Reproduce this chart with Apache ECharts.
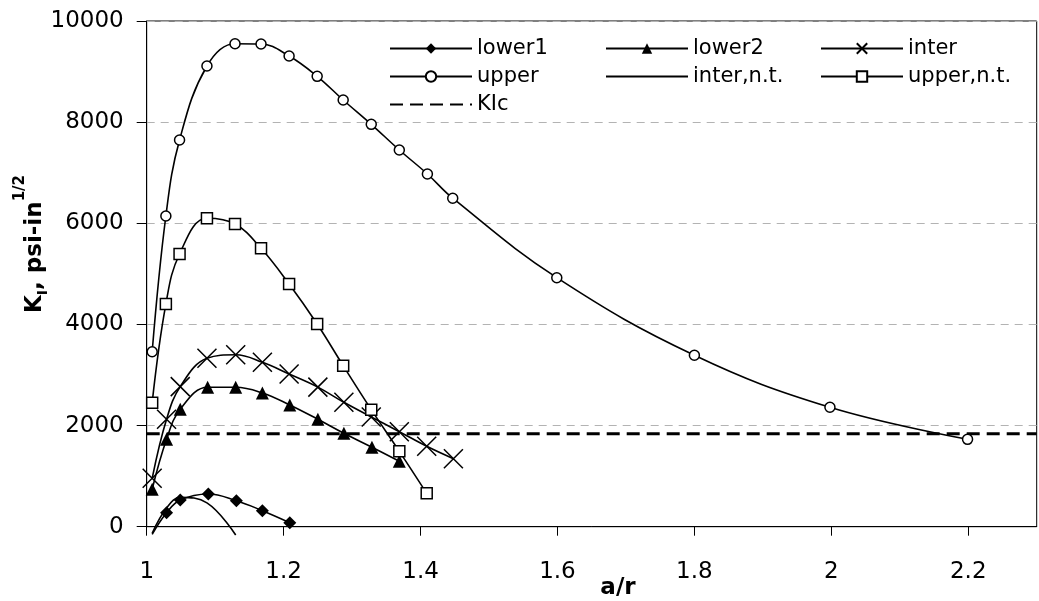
<!DOCTYPE html>
<html>
<head>
<meta charset="utf-8">
<script src="https://cdn.jsdelivr.net/npm/echarts@6/dist/echarts.min.js"></script>
<style>html,body{margin:0;padding:0;background:#fff}#c{width:1039px;height:601px}</style>
</head>
<body>
<div id="c"></div>
<script>
// ---- data ----
var xTicks = [1, 1.2, 1.4, 1.6, 1.8, 2, 2.2];
var yTicks = [0, 2000, 4000, 6000, 8000, 10000];

var lower1X = [1.008, 1.029, 1.049, 1.09, 1.131, 1.169, 1.209];
var lower1Y = [-150, 277, 528, 647, 514, 316, 79];

var lower2X = [1.008, 1.029, 1.049, 1.089, 1.13, 1.169, 1.209, 1.25, 1.288, 1.329, 1.369];
var lower2Y = [740, 1728, 2321, 2757, 2757, 2645, 2407, 2124, 1847, 1570, 1295];

var interX = [1.008, 1.029, 1.049, 1.088, 1.13, 1.169, 1.208, 1.25, 1.288, 1.328, 1.369, 1.409, 1.448];
var interY = [957, 2124, 2770, 3330, 3400, 3251, 3020, 2760, 2460, 2170, 1879, 1590, 1345];

var upperX = [1.008, 1.028, 1.048, 1.088, 1.129, 1.167, 1.208, 1.249, 1.287, 1.328, 1.369, 1.41, 1.447, 1.599, 1.8, 1.998, 2.199];
var upperY = [3460, 6144, 7647, 9110, 9551, 9545, 9308, 8906, 8438, 7957, 7449, 6975, 6496, 4924, 3390, 2361, 1728];

var interNtX = [1.008, 1.029, 1.049, 1.088, 1.13];
var interNtY = [-130, 370, 580, 470, -165];

var upperNtX = [1.008, 1.028, 1.048, 1.088, 1.129, 1.167, 1.208, 1.249, 1.287, 1.328, 1.369, 1.409];
var upperNtY = [2452, 4403, 5393, 6098, 5986, 5505, 4799, 4008, 3184, 2315, 1490, 660];

var kicX = [1, 2.3];
var kicY = [1840, 1840];

function pairs(xs, ys) { return xs.map(function (x, i) { return [x, ys[i]]; }); }

var FONT = 'DejaVu Sans';
var chart = echarts.init(document.getElementById('c'), null, { renderer: 'canvas' });

var lower1Data = pairs(lower1X, lower1Y).map(function (p) {
  return p[1] < 0 ? { value: p, symbol: 'none' } : p;
});

var lineBase = { type: 'line', smooth: 0.4, clip: false, animation: false,
  lineStyle: { color: '#000', width: 1.6 } };

function mk(name, data, extra) {
  return Object.assign({}, lineBase, { name: name, data: data }, extra);
}

var crossPath = 'path://M0,0L10,10M10,0L0,10';

var legendCommon = {
  orient: 'vertical', top: 33, itemWidth: 82, itemHeight: 13, itemGap: 7,
  selectedMode: false,
  textStyle: { fontFamily: FONT, fontSize: 21, color: '#000', lineHeight: 21 }
};
var noSym = { opacity: 0 };

chart.setOption({
  animation: false,
  backgroundColor: '#fff',
  grid: { left: 146.7, right: 2.3, top: 21, bottom: 74.3, show: true, borderColor: '#000', borderWidth: 1, containLabel: false },
  xAxis: {
    type: 'value', min: 1, max: 2.3,
    axisLine: { show: true, onZero: false, lineStyle: { color: '#000', width: 1 } },
    axisTick: { show: true, inside: false, length: 9, customValues: xTicks, lineStyle: { color: '#000' } },
    axisLabel: { customValues: xTicks, margin: 34, fontFamily: FONT, fontSize: 23, color: '#000',
      formatter: function (v) { return String(+(+v).toFixed(1)); } },
    splitLine: { show: false }
  },
  yAxis: {
    type: 'value', min: 0, max: 10000, interval: 2000,
    axisLine: { show: true, lineStyle: { color: '#000', width: 1 } },
    axisTick: { show: true, inside: false, length: 10, lineStyle: { color: '#000' } },
    axisLabel: { margin: 23, fontFamily: FONT, fontSize: 23, color: '#000',
      formatter: function (v) { return String(Math.round(v)); } },
    splitLine: { show: true, lineStyle: { color: '#b3b3b3', type: [8, 6], width: 1 } }
  },
  legend: [
    Object.assign({}, legendCommon, { left: 384, data: ['lower1', 'upper', { name: 'KIc', itemStyle: noSym }] }),
    Object.assign({}, legendCommon, { left: 600, data: ['lower2', { name: 'inter,n.t.', itemStyle: noSym }] }),
    Object.assign({}, legendCommon, { left: 815, data: ['inter', 'upper,n.t.'] })
  ],
  graphic: [
    { type: 'text', x: 618, y: 588, style: { text: 'a/r', fontFamily: FONT, fontWeight: 'bold', fontSize: 23, fill: '#000', align: 'center', verticalAlign: 'middle' } },
    { type: 'text', x: 30, y: 244, rotation: Math.PI / 2,
      style: { text: '{b|K}{s|I}{b|, psi-in}{p|1/2}', align: 'center', verticalAlign: 'middle', fill: '#000',
        rich: {
          b: { fontFamily: FONT, fontWeight: 'bold', fontSize: 23, lineHeight: 34, verticalAlign: 'bottom', fill: '#000' },
          s: { fontFamily: FONT, fontWeight: 'bold', fontSize: 14, lineHeight: 34, verticalAlign: 'bottom', fill: '#000', padding: [0, 0, -3, 0] },
          p: { fontFamily: FONT, fontWeight: 'bold', fontSize: 15, lineHeight: 34, verticalAlign: 'top', fill: '#000' }
        } } }
  ],
  series: [
    mk('KIc', pairs(kicX, kicY), { smooth: false, symbol: 'none', z: 1, itemStyle: { color: '#000' }, lineStyle: { color: '#000', width: 3, type: [13, 7] } }),
    mk('lower1', lower1Data, { symbol: 'diamond', symbolSize: 13, itemStyle: { color: '#000' } }),
    mk('lower2', pairs(lower2X, lower2Y), { symbol: 'triangle', symbolSize: 13, itemStyle: { color: '#000' } }),
    mk('inter', pairs(interX, interY), { symbol: crossPath, symbolSize: 19, itemStyle: { color: 'rgba(0,0,0,0)', borderColor: '#000', borderWidth: 1.5 } }),
    mk('upper', pairs(upperX, upperY), { symbol: 'circle', symbolSize: 10, itemStyle: { color: '#fff', borderColor: '#000', borderWidth: 1.5 } }),
    mk('inter,n.t.', pairs(interNtX, interNtY), { symbol: 'none', itemStyle: { color: '#000' } }),
    mk('upper,n.t.', pairs(upperNtX, upperNtY), { symbol: 'rect', symbolSize: 11, itemStyle: { color: '#fff', borderColor: '#000', borderWidth: 1.5 } })
  ]
});
</script>
</body>
</html>
